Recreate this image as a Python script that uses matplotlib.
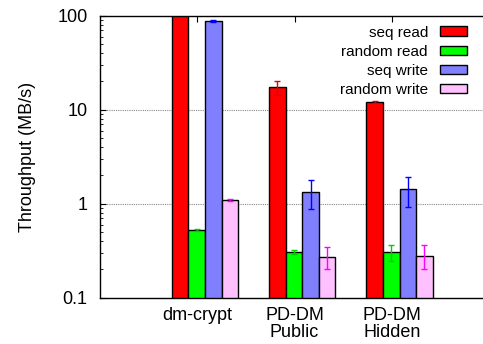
import matplotlib
matplotlib.use("Agg")
import matplotlib.pyplot as plt
import numpy as np
from matplotlib.ticker import FixedLocator, NullFormatter, LogLocator

plt.rcParams['font.family'] = ['Liberation Sans', 'DejaVu Sans']

categories = ["dm-crypt", "PD-DM\nPublic", "PD-DM\nHidden"]
series = ["seq read", "random read", "seq write", "random write"]
values = {
    "seq read":     [105.0, 17.3, 12.0],
    "random read":  [0.525, 0.306, 0.306],
    "seq write":    [87.0, 1.34, 1.43],
    "random write": [1.09, 0.273, 0.28],
}
errors = {
    "seq read":     [2.0, 3.0, 0.3],
    "random read":  [0.015, 0.012, 0.06],
    "seq write":    [2.0, 0.46, 0.5],
    "random write": [0.03, 0.07, 0.08],
}
colors = ["#ff0000", "#00ff00", "#8080ff", "#ffc0ff"]
ecolors = ["#e00000", "#00d000", "#0000ff", "#ff00ff"]

fig = plt.figure(figsize=(4.83, 3.44), dpi=100)
ax = fig.add_axes([100/483, 1 - 297.7/344, 389/483, (297.7 - 15.7)/344])

x = np.arange(len(categories))
w = 0.17
offset = 0.08
for i, s in enumerate(series):
    pos = x + offset + (i - 1.5) * w
    ax.bar(pos, values[s], width=w, color=colors[i], edgecolor="black",
           linewidth=1.0, zorder=2, label=s)
    ax.errorbar(pos, values[s], yerr=errors[s], fmt="none", ecolor=ecolors[i],
                elinewidth=1.0, capsize=2.5, capthick=1.0, zorder=3)

ax.set_yscale("log")
ax.set_ylim(0.1, 100)
ax.set_xlim(-1.0, 3.0)
ax.yaxis.set_major_locator(FixedLocator([0.1, 1, 10, 100]))
ax.set_yticklabels(["0.1", "1", "10", "100"])
ax.yaxis.set_minor_locator(LogLocator(base=10, subs=np.arange(2, 10)))
ax.yaxis.set_minor_formatter(NullFormatter())
ax.set_xticks(x)
ax.set_xticklabels(categories, linespacing=0.95)
ax.tick_params(axis="both", which="both", direction="in", top=True, right=False,
               labelsize=13, colors="black")
ax.tick_params(axis="y", which="major", length=4, pad=9)
ax.tick_params(axis="y", which="minor", length=2)
ax.tick_params(axis="x", which="major", length=4, pad=7)
for yv in [1, 10]:
    ax.axhline(yv, color="#888888", linestyle=(0, (1, 1)), linewidth=0.8, zorder=1)
ax.spines["right"].set_visible(False)
for sp in ["left", "bottom", "top"]:
    ax.spines[sp].set_linewidth(1.0)

ax.set_ylabel("Throughput (MB/s)", fontsize=13, labelpad=15)

leg = ax.legend(loc="upper right", bbox_to_anchor=(367/389, 0.965), frameon=False,
                markerfirst=False, fontsize=11, handlelength=1.76, handleheight=0.57,
                labelspacing=0.33, borderaxespad=0.0, borderpad=0.0, handletextpad=0.8)
for t in leg.get_texts():
    t.set_ha("right")

fig.savefig("out.png", dpi=100)
